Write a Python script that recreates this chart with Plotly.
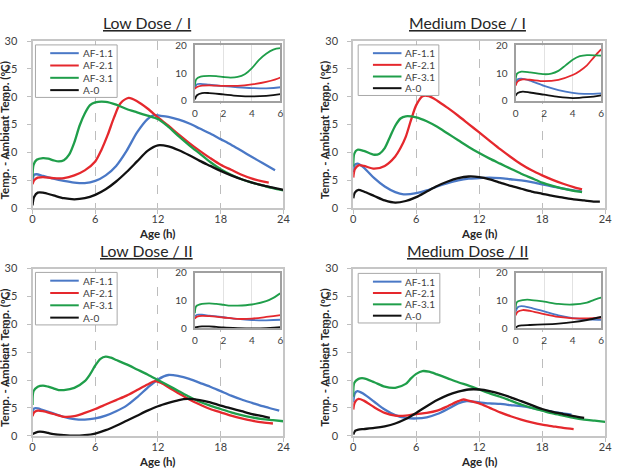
import plotly.graph_objects as go

# ---------------- data (hours, temp - ambient temp in degC) ----------------
SERIES = ["AF-1.1", "AF-2.1", "AF-3.1", "A-0"]
TITLES = ["Low Dose / I", "Medium Dose / I", "Low Dose / II", "Medium Dose / II"]
X_TICKS = [0, 6, 12, 18, 24]
Y_TICKS = [0, 5, 10, 15, 20, 25, 30]
INSET_X_TICKS = [0, 2, 4, 6]
INSET_Y_TICKS = [0, 10, 20]

# Low Dose / I
LD1_AF11_T = [0, 0.15, 0.4, 1, 2, 3, 4, 5, 6, 7, 8, 9, 10, 11, 11.6, 12.2, 13, 14, 15, 16, 17, 18, 19, 20, 21, 22, 23.2]
LD1_AF11_Y = [4.8, 6.0, 6.1, 5.8, 5.3, 4.9, 4.6, 4.5, 4.9, 5.9, 7.6, 10.3, 13.6, 16.0, 16.7, 16.6, 16.4, 15.9, 15.2, 14.3, 13.4, 12.4, 11.4, 10.3, 9.2, 8.1, 6.8]
LD1_AF21_T = [0, 0.15, 0.5, 1, 2, 3, 4, 5, 6, 6.6, 7.2, 7.8, 8.4, 9.2, 10, 11, 12, 13, 14, 15, 16, 17, 18, 19, 20, 21, 22, 22.6]
LD1_AF21_Y = [4.3, 5.0, 5.5, 5.6, 5.4, 5.4, 5.9, 6.8, 8.4, 10.5, 13.2, 16.3, 18.8, 19.8, 19.2, 17.9, 16.3, 14.8, 13.2, 11.7, 10.3, 9.0, 7.8, 6.9, 6.0, 5.3, 4.8, 4.6]
LD1_AF31_T = [0, 0.1, 0.4, 1, 1.5, 2, 2.5, 3, 3.5, 4, 4.5, 5, 5.5, 6, 7, 8, 9, 10, 11, 12, 13, 14, 15, 16, 17, 18, 19, 20, 21, 22, 23, 24]
LD1_AF31_Y = [5.5, 7.8, 8.7, 9.0, 8.9, 8.6, 8.4, 8.6, 9.6, 11.8, 14.8, 17.0, 18.5, 19.0, 19.1, 18.6, 17.8, 17.2, 16.6, 16.0, 14.6, 12.9, 11.3, 9.8, 8.3, 7.0, 6.0, 5.2, 4.6, 4.1, 3.6, 3.2]
LD1_A0_T = [0, 0.15, 0.5, 1, 2, 3, 4, 5, 6, 7, 8, 9, 10, 11, 12, 13, 14, 15, 16, 17, 18, 19, 20, 21, 22, 23, 24]
LD1_A0_Y = [0.5, 2.0, 2.8, 2.8, 2.3, 1.8, 1.6, 1.8, 2.4, 3.4, 4.8, 6.5, 8.4, 10.3, 11.3, 11.1, 10.4, 9.5, 8.5, 7.6, 6.7, 5.9, 5.2, 4.6, 4.1, 3.7, 3.3]

# Medium Dose / I
MD1_AF11_T = [0, 0.15, 0.4, 1, 2, 3, 4, 4.8, 6, 7, 8, 9, 10, 11, 12, 13, 14, 15, 16, 17, 18, 19, 20, 21, 21.8]
MD1_AF11_Y = [6.5, 7.8, 8.0, 7.3, 5.4, 3.9, 2.9, 2.5, 2.7, 3.2, 3.9, 4.5, 5.0, 5.3, 5.4, 5.5, 5.4, 5.2, 5.0, 4.7, 4.3, 3.9, 3.5, 3.2, 3.0]
MD1_AF21_T = [0, 0.15, 0.5, 1, 2, 3, 4, 4.5, 5, 5.5, 6, 6.6, 7.2, 8, 9, 10, 11, 12, 13, 14, 15, 16, 17, 18, 19, 20, 21, 21.8]
MD1_AF21_Y = [5.5, 7.0, 7.7, 7.6, 7.1, 7.6, 9.3, 10.8, 12.8, 15.8, 18.5, 20.1, 20.1, 19.3, 18.0, 16.6, 15.1, 13.6, 12.1, 10.6, 9.2, 7.9, 6.8, 5.9, 5.1, 4.4, 3.8, 3.4]
MD1_AF31_T = [0, 0.1, 0.4, 1, 2, 2.5, 3, 3.5, 4, 4.5, 5, 6, 7, 8, 9, 10, 11, 12, 13, 14, 15, 16, 17, 18, 19, 20, 21, 21.8]
MD1_AF31_Y = [7.5, 9.8, 10.5, 10.3, 9.6, 9.8, 10.8, 12.8, 14.8, 16.1, 16.5, 16.3, 15.6, 14.6, 13.4, 12.2, 11.0, 9.9, 8.9, 8.0, 7.1, 6.2, 5.4, 4.6, 4.0, 3.5, 3.1, 2.9]
MD1_A0_T = [0, 0.15, 0.5, 1, 2, 3, 4, 5, 6, 7, 8, 9, 10, 11, 12, 13, 14, 15, 16, 17, 18, 19, 20, 21, 22, 23, 23.5]
MD1_A0_Y = [1.8, 2.8, 3.3, 3.0, 2.2, 1.4, 1.0, 1.3, 2.0, 3.0, 4.0, 4.8, 5.4, 5.7, 5.6, 5.2, 4.6, 4.0, 3.5, 3.0, 2.6, 2.2, 1.9, 1.6, 1.4, 1.2, 1.2]

# Low Dose / II
LD2_AF11_T = [0, 0.15, 0.5, 1, 2, 3, 4, 5, 6, 7, 8, 9, 10, 11, 12, 13, 14, 15, 16, 17, 18, 19, 20, 21, 22, 23, 23.6]
LD2_AF11_Y = [4.3, 4.9, 4.9, 4.6, 4.0, 3.4, 3.0, 2.9, 3.1, 3.6, 4.4, 5.4, 6.9, 8.6, 10.1, 10.9, 10.7, 10.2, 9.5, 8.8, 8.0, 7.2, 6.5, 5.9, 5.3, 4.8, 4.5]
LD2_AF21_T = [0, 0.15, 0.5, 1, 2, 3, 4, 5, 6, 7, 8, 9, 10, 11, 11.7, 12.5, 13, 14, 15, 16, 17, 18, 19, 20, 21, 22, 23]
LD2_AF21_Y = [3.5, 4.2, 4.5, 4.4, 3.9, 3.4, 3.5, 4.1, 4.8, 5.6, 6.4, 7.2, 8.2, 9.2, 9.8, 9.3, 8.7, 7.6, 6.5, 5.6, 4.8, 4.2, 3.6, 3.1, 2.7, 2.4, 2.2]
LD2_AF31_T = [0, 0.1, 0.5, 1, 1.5, 2, 2.5, 3, 4, 5, 5.5, 6, 6.5, 7, 7.5, 8, 9, 10, 11, 12, 13, 14, 15, 16, 17, 18, 19, 20, 21, 22, 23, 24]
LD2_AF31_Y = [5.5, 8.0, 8.8, 9.0, 8.8, 8.5, 8.2, 8.2, 8.6, 9.8, 11.0, 12.6, 13.8, 14.2, 14.0, 13.6, 12.8, 11.9, 11.0, 10.0, 9.0, 8.0, 7.0, 6.1, 5.4, 4.8, 4.2, 3.7, 3.3, 3.0, 2.8, 2.6]
LD2_A0_T = [0, 0.5, 1, 1.5, 2, 3, 4, 5, 6, 7, 8, 9, 10, 11, 12, 13, 14, 14.8, 16, 17, 18, 19, 20, 21, 22, 22.7]
LD2_A0_Y = [0.3, 0.7, 0.7, 0.5, 0.3, 0.1, 0.0, 0.1, 0.4, 1.0, 1.8, 2.7, 3.6, 4.5, 5.3, 5.9, 6.4, 6.6, 6.4, 6.0, 5.4, 4.9, 4.4, 3.9, 3.5, 3.2]

# Medium Dose / II
MD2_AF11_T = [0, 0.15, 0.4, 1, 2, 3, 4, 5, 6, 7, 8, 9, 10, 10.8, 12, 13, 14, 15, 16, 17, 18, 19, 20, 20.8]
MD2_AF11_Y = [6.0, 7.6, 8.0, 7.5, 6.1, 4.7, 3.7, 3.2, 3.1, 3.3, 3.9, 4.8, 5.8, 6.2, 6.0, 5.8, 5.7, 5.5, 5.3, 5.0, 4.6, 4.3, 4.0, 3.8]
MD2_AF21_T = [0, 0.15, 0.5, 1, 2, 3, 4, 5, 6, 7, 8, 9, 10, 10.5, 11, 12, 13, 14, 15, 16, 17, 18, 19, 20, 21]
MD2_AF21_Y = [4.7, 6.0, 6.6, 6.3, 5.1, 4.1, 3.6, 3.6, 3.9, 4.1, 4.5, 5.3, 6.2, 6.5, 6.3, 5.8, 5.0, 4.2, 3.5, 2.9, 2.4, 2.0, 1.7, 1.4, 1.2]
MD2_AF31_T = [0, 0.1, 0.5, 1, 2, 3, 4, 5, 5.5, 6, 6.6, 7.2, 8, 9, 10, 11, 12, 13, 14, 15, 16, 17, 18, 19, 20, 21, 22, 23, 24]
MD2_AF31_Y = [7.0, 9.5, 10.2, 10.3, 9.6, 8.8, 8.6, 9.3, 10.3, 11.1, 11.6, 11.5, 11.0, 10.3, 9.6, 9.0, 8.3, 7.6, 7.0, 6.3, 5.6, 5.0, 4.5, 4.0, 3.6, 3.2, 2.9, 2.7, 2.5]
MD2_A0_T = [0, 0.2, 0.5, 1, 2, 3, 4, 5, 6, 7, 8, 9, 10, 11, 12, 13, 14, 15, 16, 17, 18, 19, 20, 21, 22]
MD2_A0_Y = [0.2, 0.9, 1.1, 1.2, 1.4, 1.7, 2.2, 3.0, 4.1, 5.3, 6.4, 7.3, 7.9, 8.3, 8.3, 8.0, 7.5, 6.9, 6.2, 5.5, 4.8, 4.3, 3.9, 3.5, 3.2]

PANELS = [
    [(LD1_AF11_T, LD1_AF11_Y), (LD1_AF21_T, LD1_AF21_Y), (LD1_AF31_T, LD1_AF31_Y), (LD1_A0_T, LD1_A0_Y)],
    [(MD1_AF11_T, MD1_AF11_Y), (MD1_AF21_T, MD1_AF21_Y), (MD1_AF31_T, MD1_AF31_Y), (MD1_A0_T, MD1_A0_Y)],
    [(LD2_AF11_T, LD2_AF11_Y), (LD2_AF21_T, LD2_AF21_Y), (LD2_AF31_T, LD2_AF31_Y), (LD2_A0_T, LD2_A0_Y)],
    [(MD2_AF11_T, MD2_AF11_Y), (MD2_AF21_T, MD2_AF21_Y), (MD2_AF31_T, MD2_AF31_Y), (MD2_A0_T, MD2_A0_Y)],
]

# ---------------- style / layout ----------------
W, H = 620, 468
COLORS = ["#4A78C6", "#E5282D", "#1F9E4A", "#111111"]
FONT = "Lato, 'Open Sans', sans-serif"
TICK_COLOR = "#404040"


def fx(p):
    return p / W


def fy(p):
    return 1 - p / H


# pixel boxes: (left, right, top, bottom)
MAIN_BOX = [(30, 285, 35, 207), (356, 612, 35, 207), (30, 285, 269, 441), (356, 612, 269, 441)]
INSET_BOX = [(195, 282, 39.5, 96.5), (521, 608, 39.5, 96.5), (195, 282, 273.5, 330.5), (521, 608, 273.5, 330.5)]
LEGEND_BOX = [(33, 116, 39, 93), (361, 443, 39, 91), (33, 116, 273, 327), (361, 444, 274, 325)]
TITLE_POS = [(146, 16), (472, 16), (146, 250), (472, 250)]
YTITLE_X = [2, 327, 2, 327]

fig = go.Figure()
layout = dict(
    width=W, height=H, margin=dict(l=0, r=0, t=0, b=0),
    paper_bgcolor="white", plot_bgcolor="white", showlegend=False,
    font=dict(family=FONT, color=TICK_COLOR),
)
shapes = []
annotations = []

for p in range(4):
    mi = p + 1
    ii = p + 5
    l, r, t, b = MAIN_BOX[p]
    layout[f"xaxis{mi}"] = dict(
        domain=[fx(l), fx(r)], anchor=f"y{mi}", range=[0, 24], tickvals=X_TICKS,
        showgrid=True, gridcolor="#BDBDBD", griddash="dash", gridwidth=1,
        showline=True, mirror=True, linecolor="#C6C6C6", linewidth=2,
        ticks="outside", ticklen=4, tickcolor="#BFBFBF", tickwidth=1,
        zeroline=False, tickfont=dict(size=11, color=TICK_COLOR),
        ticklabelstandoff=-4,
    )
    layout[f"yaxis{mi}"] = dict(
        domain=[fy(b), fy(t)], anchor=f"x{mi}", range=[0, 30], tickvals=Y_TICKS,
        showgrid=False, showline=True, mirror=True, linecolor="#C6C6C6", linewidth=2,
        ticks="outside", ticklen=4, tickcolor="#BFBFBF", tickwidth=1,
        zeroline=False, tickfont=dict(size=11, color=TICK_COLOR),
        ticklabelstandoff=7,
    )
    l, r, t, b = INSET_BOX[p]
    layout[f"xaxis{ii}"] = dict(
        domain=[fx(l), fx(r)], anchor=f"y{ii}", range=[0, 6], tickvals=INSET_X_TICKS,
        showgrid=True, gridcolor="#E2E2E2", gridwidth=1,
        showline=True, mirror=True, linecolor="#A0A0A0", linewidth=2,
        ticks="", zeroline=False, tickfont=dict(size=10, color=TICK_COLOR),
        ticklabelstandoff=2,
    )
    layout[f"yaxis{ii}"] = dict(
        domain=[fy(b), fy(t)], anchor=f"x{ii}", range=[0, 20], tickvals=INSET_Y_TICKS,
        showgrid=False, showline=True, mirror=True, linecolor="#A0A0A0", linewidth=2,
        ticks="", zeroline=False, tickfont=dict(size=10, color=TICK_COLOR),
        ticklabelstandoff=4,
    )

    for k, (tt, yy) in enumerate(PANELS[p]):
        fig.add_trace(go.Scatter(
            x=tt, y=yy, mode="lines", name=SERIES[k],
            line=dict(color=COLORS[k], width=2.3, shape="spline", smoothing=0.8),
            xaxis=f"x{mi}", yaxis=f"y{mi}",
        ))
    for k, (tt, yy) in enumerate(PANELS[p]):
        fig.add_trace(go.Scatter(
            x=tt, y=yy, mode="lines", name=SERIES[k],
            line=dict(color=COLORS[k], width=1.8, shape="spline", smoothing=0.8),
            xaxis=f"x{ii}", yaxis=f"y{ii}",
        ))

    # legend box (drawn manually to match the compact legend of the original)
    l, r, t, b = LEGEND_BOX[p]
    shapes.append(dict(type="rect", xref="paper", yref="paper", x0=fx(l), x1=fx(r), y0=fy(b), y1=fy(t),
                       line=dict(color="#A8A8A8", width=1), fillcolor="white", layer="above"))
    step = (b - t - 16) / 3.0
    for k in range(4):
        yy = t + 8.5 + k * step
        shapes.append(dict(type="line", xref="paper", yref="paper", x0=fx(l + 15), x1=fx(l + 44),
                           y0=fy(yy), y1=fy(yy), line=dict(color=COLORS[k], width=2), layer="above"))
        annotations.append(dict(text=SERIES[k], xref="paper", yref="paper", x=fx(l + 46), y=fy(yy),
                                xanchor="left", yanchor="middle", showarrow=False,
                                font=dict(size=10, color=TICK_COLOR, family=FONT)))

    # panel title
    tx, ty = TITLE_POS[p]
    annotations.append(dict(text=f"<u>{TITLES[p]}</u>", xref="paper", yref="paper", x=fx(tx), y=fy(ty),
                            xanchor="center", yanchor="middle", showarrow=False,
                            font=dict(size=15.8, color="#262626", family=FONT)))
    # axis titles
    l, r, t, b = MAIN_BOX[p]
    annotations.append(dict(text="<b>Age (h)</b>", xref="paper", yref="paper", x=fx((l + r) / 2),
                            y=fy(b + 26), xanchor="center", yanchor="middle", showarrow=False,
                            font=dict(size=11.5, color="#262626", family=FONT)))
    annotations.append(dict(text="<b>Temp. - Ambient Temp. (ºC)</b>", xref="paper", yref="paper",
                            x=fx(YTITLE_X[p]), y=fy((t + b) / 2 + 6), xanchor="center", yanchor="middle",
                            textangle=-90, showarrow=False,
                            font=dict(size=11.5, color="#262626", family=FONT)))

layout["shapes"] = shapes
layout["annotations"] = annotations
fig.update_layout(**layout)
fig.write_html("out.html")
